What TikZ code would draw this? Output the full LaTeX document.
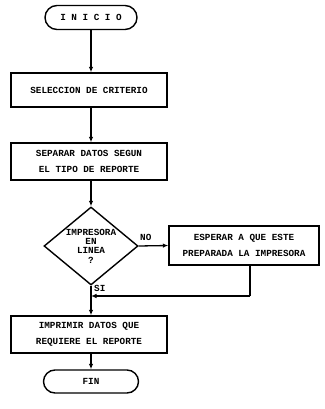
\documentclass[tikz,border=0pt]{standalone}
\usepackage{fontspec}
\setmonofont{Liberation Mono}
\usetikzlibrary{shapes.geometric,shapes.misc,arrows.meta}
\tikzset{
  base/.style={draw=black, line width=1.4pt, font=\ttfamily\bfseries\fontsize{9.3}{16}\selectfont, align=center, inner sep=0pt},
  term/.style={base, rounded rectangle},
  proc/.style={base, rectangle},
  deci/.style={draw=black, line width=1.4pt, diamond, inner sep=0pt},
  lbl/.style={font=\ttfamily\bfseries\fontsize{9.3}{9.3}\selectfont, align=center, inner sep=0pt},
  flow/.style={line width=1.3pt, -{Latex[length=5.5pt,width=4.5pt]}},
  plain/.style={line width=1.3pt}
}
\begin{document}
\begin{tikzpicture}[x=1pt,y=-1pt]
\useasboundingbox (0,0) rectangle (324,409);
\node[term, minimum width=92pt, minimum height=24pt] (inicio) at (91,17.5) {I N I C I O};
\node[proc, minimum width=156pt, minimum height=34pt] (sel) at (89,90) {SELECCION DE CRITERIO};
\node[proc, minimum width=156pt, minimum height=37pt] (sep) at (89,161.5) {SEPARAR DATOS SEGUN\\EL TIPO DE REPORTE};
\node[deci, minimum width=94pt, minimum height=78pt] (dec) at (91,246) {};
\node[lbl] (dectxt) at (dec.center) {IMPRESORA\\EN\\LINEA\\?};
\node[proc, minimum width=150pt, minimum height=39pt] (esp) at (244,245.5) {ESPERAR A QUE ESTE\\PREPARADA LA IMPRESORA};
\node[proc, minimum width=156pt, minimum height=37pt] (imp) at (89,334.5) {IMPRIMIR DATOS QUE\\REQUIERE EL REPORTE};
\node[term, minimum width=95pt, minimum height=23pt] (fin) at (91,381.5) {FIN};
\coordinate (r) at (250,296);
\node[lbl, anchor=south west] (no) at (140,241) {NO};
\node[lbl, anchor=west] (si) at (94,288) {SI};

\draw[flow] (inicio.south) -- (sel.north -| inicio.south);
\draw[flow] (sel.south -| inicio.south) -- (sep.north -| inicio.south);
\draw[flow] (sep.south -| dec.north) -- (dec.north);
\draw[flow] (dec.east) -- (esp.west);
\draw[flow] (dec.south) -- (imp.north -| dec.south);
\draw[plain] (esp.south -| r) -- (r);
\draw[flow] (r) -- (r -| dec.south);
\draw[flow] (imp.south -| fin.north) -- (fin.north);
\end{tikzpicture}
\end{document}
